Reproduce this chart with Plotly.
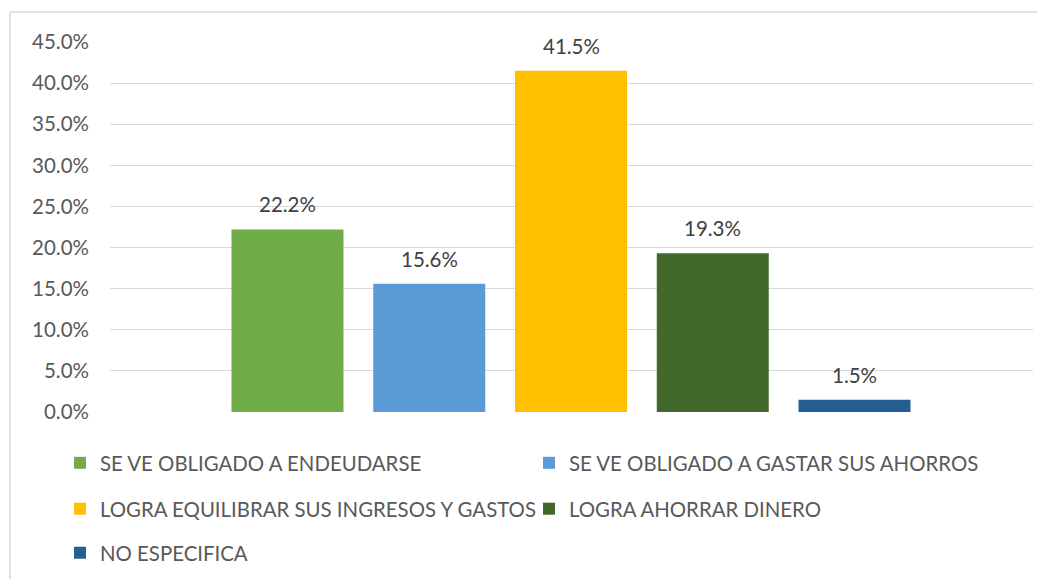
import plotly.graph_objects as go

# datos del gráfico
categorias = [
    "SE VE OBLIGADO A ENDEUDARSE",
    "SE VE OBLIGADO A GASTAR SUS AHORROS",
    "LOGRA EQUILIBRAR SUS INGRESOS Y GASTOS",
    "LOGRA AHORRAR DINERO",
    "NO ESPECIFICA",
]
porcentajes = [22.2, 15.6, 41.5, 19.3, 1.5]
colores = ["#70AD47", "#5B9BD5", "#FFC000", "#43682B", "#255E91"]
# fila de la leyenda en la que va cada serie
leyendas = ["legend", "legend", "legend2", "legend2", "legend3"]

fuente = "Lato, Carlito, Calibri, sans-serif"
gris_texto = "#595959"
gris_linea = "#D9D9D9"

fig = go.Figure()

# 1. una barra por serie
for nombre, valor, color, leyenda in zip(categorias, porcentajes, colores, leyendas):
    fig.add_trace(go.Bar(
        x=[nombre], y=[valor], name=nombre,
        marker_color=color, marker_line_width=0,
        legend=leyenda, hoverinfo="skip",
    ))

# 2. etiquetas de datos encima de cada barra
anotaciones = [
    dict(x=nombre, y=valor, text=f"{valor:.1f}%", showarrow=False,
         yanchor="bottom", yshift=11,
         font=dict(family=fuente, size=20.5, color="#404040"))
    for nombre, valor in zip(categorias, porcentajes)
]

# 3. leyenda en tres filas (dos columnas)
def fila_leyenda(y):
    return dict(
        orientation="h", x=-0.0542, xanchor="left", y=y, yanchor="middle",
        entrywidth=424, entrywidthmode="pixels", itemwidth=30,
        font=dict(family=fuente, size=20.4, color=gris_texto),
        bgcolor="rgba(0,0,0,0)", itemclick=False, itemdoubleclick=False,
    )

# la página html deja 8 px de margen, por eso el tamaño es 1037x571
fig.update_layout(
    width=1037, height=571,
    margin=dict(l=102, r=12, t=34, b=167, autoexpand=False),
    paper_bgcolor="white", plot_bgcolor="white",
    barmode="overlay", bargap=0.21,
    showlegend=True,
    legend=fila_leyenda(-0.138),
    legend2=fila_leyenda(-0.262),
    legend3=fila_leyenda(-0.381),
    annotations=anotaciones,
    xaxis=dict(
        type="category", range=[-1.252, 5.259],
        showticklabels=False, showgrid=False, zeroline=False, showline=False,
        fixedrange=True,
    ),
    yaxis=dict(
        range=[0, 45], dtick=5, tickformat=".1f", ticksuffix="%",
        showgrid=True, gridcolor=gris_linea, gridwidth=1.3,
        zeroline=False, showline=False, ticklabelstandoff=20,
        tickfont=dict(family=fuente, size=20.5, color=gris_texto),
        fixedrange=True,
    ),
    # borde exterior del gráfico
    shapes=[dict(
        type="rect", xref="paper", yref="paper",
        x0=-0.1083, x1=1.012, y0=-0.6, y1=1.081,
        line=dict(color=gris_linea, width=1.5), fillcolor="rgba(0,0,0,0)",
        layer="below",
    )],
)

fig.write_html("out.html", config={"displayModeBar": False})
